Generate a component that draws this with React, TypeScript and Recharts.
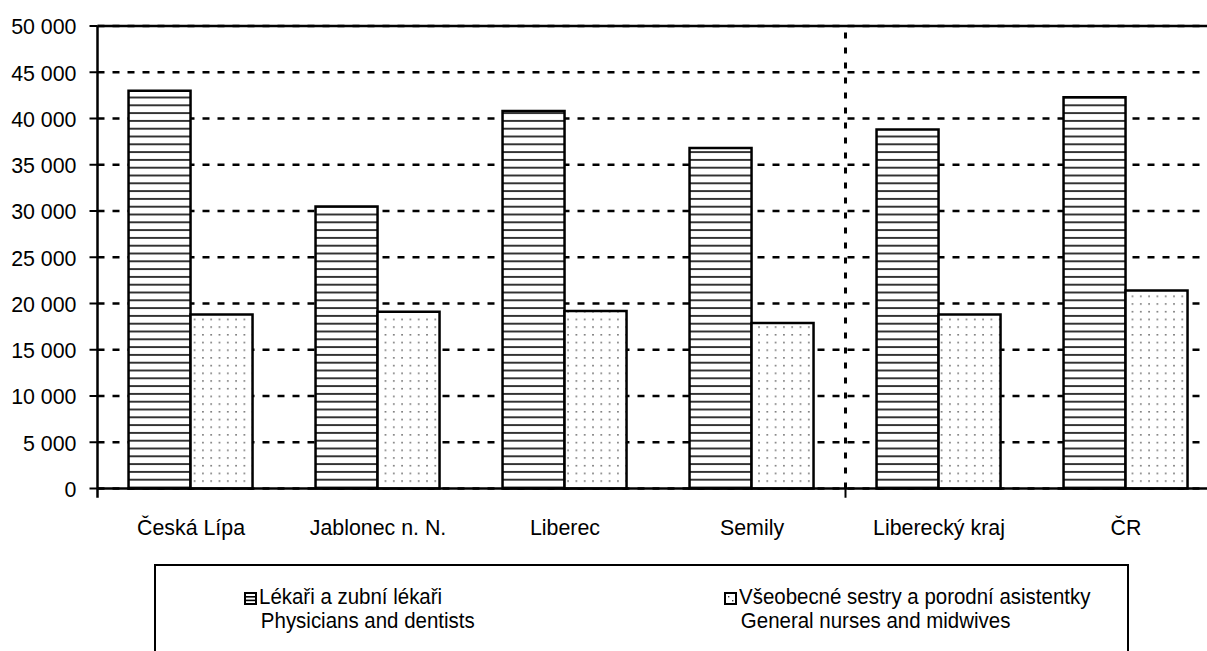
import { BarChart, Bar, XAxis, YAxis, CartesianGrid, ReferenceLine } from 'recharts';

const categories = ['Česká Lípa', 'Jablonec n. N.', 'Liberec', 'Semily', 'Liberecký kraj', 'ČR'];
const physicians = [43000, 30500, 40800, 36800, 38800, 42300];
const nurses = [18800, 19100, 19200, 17900, 18800, 21400];
const yTicks = [0, 5000, 10000, 15000, 20000, 25000, 30000, 35000, 40000, 45000, 50000];
const physiciansLabel = ['Lékaři a zubní lékaři', 'Physicians and dentists'];
const nursesLabel = ['Všeobecné sestry a porodní asistentky', 'General nurses and midwives'];

const data = categories.map((name, i) => ({ name, phys: physicians[i], nurses: nurses[i] }));

const FONT = '"Liberation Sans", Arial, sans-serif';
const SQUEEZE = 0.93; // původní písmo je užší (Arial Narrow)

// mezera jako oddělovač tisíců: 50 000
const fmt = (v: number) => String(v).replace(/\B(?=(\d{3})+(?!\d))/g, ' ');

const YTick = ({ x, y, payload }: any) => (
  <text
    transform={`translate(${x},${y}) scale(${SQUEEZE},1)`}
    textAnchor="end"
    dy="0.36em"
    fontFamily={FONT}
    fontSize={23}
    fill="#000"
  >
    {fmt(payload.value)}
  </text>
);

const XTick = ({ x, y, payload }: any) => (
  <text
    transform={`translate(${x},${y}) scale(${SQUEEZE},1)`}
    textAnchor="middle"
    dy="0.71em"
    fontFamily={FONT}
    fontSize={23}
    fill="#000"
  >
    {payload.value}
  </text>
);

const StripeIcon = () => (
  <svg width={13} height={13} style={{ flexShrink: 0, marginTop: 7 }}>
    <rect x={1} y={1} width={11} height={11} fill="#fff" stroke="#000" strokeWidth={2} />
    <line x1={1} y1={4.8} x2={12} y2={4.8} stroke="#000" strokeWidth={1.6} />
    <line x1={1} y1={8.4} x2={12} y2={8.4} stroke="#000" strokeWidth={1.6} />
  </svg>
);

const DotIcon = () => (
  <svg width={13} height={13} style={{ flexShrink: 0, marginTop: 7 }}>
    <rect x={1} y={1} width={11} height={11} fill="#fff" stroke="#000" strokeWidth={2} />
    <rect x={4} y={4} width={1.4} height={1.4} fill="#333" />
    <rect x={8} y={8} width={1.4} height={1.4} fill="#333" />
  </svg>
);

const LegendText = ({ lines }: { lines: string[] }) => (
  <div style={{ lineHeight: '24px', transform: `scaleX(${SQUEEZE})`, transformOrigin: 'left top', whiteSpace: 'nowrap' }}>
    <div>{lines[0]}</div>
    <div style={{ paddingLeft: 2 }}>{lines[1]}</div>
  </div>
);

const LegendBox = () => (
  <div style={{
    position: 'absolute', left: 154, top: 564, width: 975, height: 100,
    border: '2px solid #000', boxSizing: 'border-box',
    fontFamily: FONT, fontSize: 22, color: '#000',
  }}>
    <div style={{ position: 'absolute', left: 88, top: 19, display: 'flex', gap: 2 }}>
      <StripeIcon />
      <LegendText lines={physiciansLabel} />
    </div>
    <div style={{ position: 'absolute', left: 568, top: 19, display: 'flex', gap: 2 }}>
      <DotIcon />
      <LegendText lines={nursesLabel} />
    </div>
  </div>
);

export default function App() {
  return (
    <div style={{ position: 'absolute', left: 0, top: 0, width: 1207, height: 651, overflow: 'hidden', background: '#fff' }}>
      <BarChart
        width={1240}
        height={651}
        data={data}
        margin={{ top: 26, right: 20.5, left: 0, bottom: 132.5 }}
        barCategoryGap="16.6%"
        barGap={0}
      >
        <defs>
          <pattern id="hstripe" patternUnits="userSpaceOnUse" width={8} height={7.8}>
            <rect width={8} height={7.8} fill="#fff" />
            <rect y={3} width={8} height={1.8} fill="#222" />
          </pattern>
          <pattern id="dots" patternUnits="userSpaceOnUse" width={8.3} height={7.7}>
            <rect width={8.3} height={7.7} fill="#fff" />
            <rect x={3} y={3} width={1.4} height={1.4} fill="#444" />
          </pattern>
        </defs>
        <CartesianGrid vertical={false} stroke="#000" strokeWidth={2.5} strokeDasharray="7 8" />
        <XAxis
          dataKey="name"
          height={30}
          axisLine={{ stroke: '#000', strokeWidth: 2.5 }}
          tickLine={false}
          tickSize={0}
          tickMargin={30}
          tick={<XTick />}
          interval={0}
        />
        <YAxis
          width={97.5}
          domain={[0, 50000]}
          ticks={yTicks}
          interval={0}
          axisLine={{ stroke: '#000', strokeWidth: 2.5 }}
          tickLine={{ stroke: '#000', strokeWidth: 2 }}
          tickSize={8}
          tickMargin={13}
          tick={<YTick />}
        />
        <ReferenceLine y={50000} stroke="#000" strokeWidth={2.5} />
        {/* svislý oddělovač mezi okresy a krajem / ČR */}
        <ReferenceLine
          position="start"
          segment={[{ x: categories[4], y: 0 }, { x: categories[4], y: 50000 }]}
          stroke="#000"
          strokeWidth={3}
          strokeDasharray="6 9"
          ifOverflow="visible"
        />
        <ReferenceLine
          position="start"
          segment={[{ x: categories[4], y: -1000 }, { x: categories[4], y: 0 }]}
          stroke="#000"
          strokeWidth={2}
          ifOverflow="visible"
        />
        <ReferenceLine
          position="start"
          segment={[{ x: categories[0], y: -1000 }, { x: categories[0], y: 0 }]}
          stroke="#000"
          strokeWidth={2.5}
          ifOverflow="visible"
        />
        <Bar dataKey="phys" name={physiciansLabel[0]} fill="url(#hstripe)" stroke="#000" strokeWidth={2.5} isAnimationActive={false} />
        <Bar dataKey="nurses" name={nursesLabel[0]} fill="url(#dots)" stroke="#000" strokeWidth={2.5} isAnimationActive={false} />
      </BarChart>
      <LegendBox />
    </div>
  );
}
